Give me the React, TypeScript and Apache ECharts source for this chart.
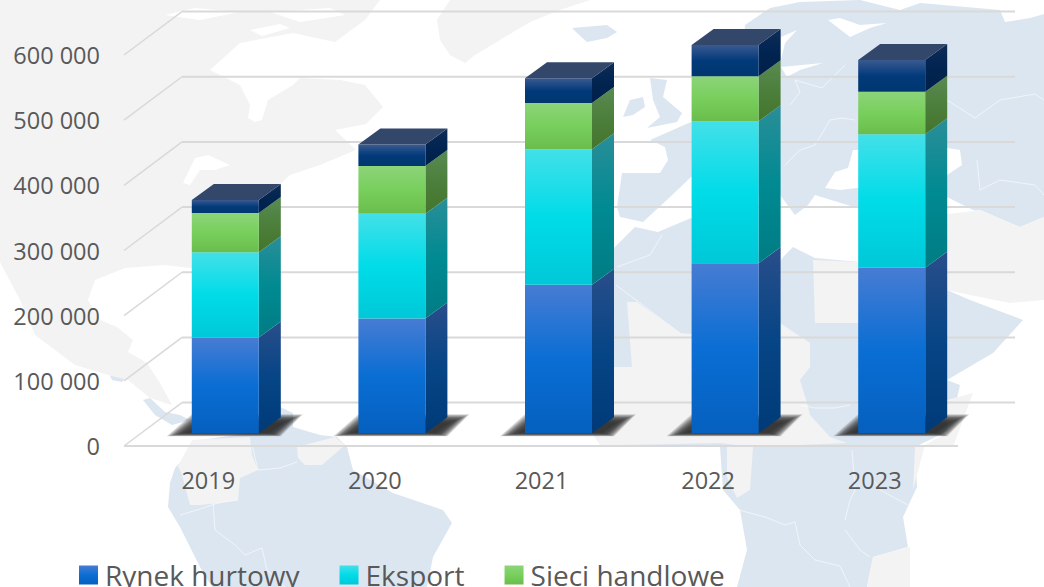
import React, { useEffect, useRef } from "react";
import * as echarts from "echarts";

const years = ["2019", "2020", "2021", "2022", "2023"];
const rynekHurtowy = [147000, 176000, 228000, 261000, 254000];
const eksport = [131000, 161000, 208000, 218000, 205000];
const sieciHandlowe = [60000, 73000, 71000, 69000, 65000];
const sprzedazDetaliczna = [20000, 33000, 38000, 48000, 49000];
const yTicks = [0, 100000, 200000, 300000, 400000, 500000, 600000];
const seriesNames = ["Rynek hurtowy", "Eksport", "Sieci handlowe", "Sprzedaż detaliczna"];

const LAND_BLUE = "#dce6f1";
const LAND_GREY = "#f3f3f3";

type P = number[][];
const greyLand: P[] = [
  // North and Central America
  [[0,0],[380,0],[365,20],[335,42],[293,33],[240,43],[210,70],[240,85],[250,105],[248,118],[255,122],[262,120],[268,100],[293,85],[300,78],[340,80],[365,85],[383,107],[366,124],[335,130],[356,150],[320,165],[290,175],[272,192],[262,215],[262,258],[190,268],[165,265],[125,268],[95,280],[88,300],[100,320],[117,327],[133,340],[128,352],[147,363],[160,383],[172,405],[150,398],[128,380],[108,375],[75,365],[35,335],[20,300],[0,262]],
  // Greenland
  [[437,20],[450,0],[590,0],[560,10],[530,22],[500,40],[475,55],[465,63],[450,55],[440,40]],
  // Colombia
  [[178,466],[192,440],[250,437],[252,455],[258,470],[240,478],[238,500],[218,503],[200,505],[190,505],[182,475]],
  // Guianas
  [[297,447],[335,437],[345,445],[322,465],[305,465],[298,458]],
];
const blueLand: P[] = [
  // South America
  [[175,468],[170,483],[168,507],[180,527],[200,567],[212,587],[427,587],[433,557],[452,523],[443,510],[393,493],[353,470],[347,447],[337,437],[320,435],[293,427],[293,413],[280,407],[250,433],[200,440]],
  // Central America
  [[107,370],[117,352],[128,352],[128,375],[122,382],[112,380]],
  [[143,400],[150,398],[165,412],[180,415],[190,420],[172,425],[155,415]],
  // Iceland
  [[572,28],[607,25],[617,32],[607,38],[587,42],[577,33]],
  // Great Britain
  [[650,78],[667,80],[663,97],[682,113],[677,122],[647,128],[660,117],[653,100]],
  // Ireland
  [[623,117],[630,100],[643,97],[645,107],[633,115]],
  // Iberia and France
  [[622,173],[660,173],[668,160],[665,147],[650,140],[691,122],[700,170],[691,177],[670,197],[643,222],[620,217],[617,207]],
  // Eurasia
  [[691,122],[740,90],[745,25],[770,8],[800,2],[860,0],[900,10],[920,3],[1000,10],[1005,22],[1030,18],[1044,14],[1044,217],[1020,227],[980,210],[947,213],[925,240],[880,215],[815,195],[808,205],[795,215],[780,195],[700,195]],
  // Africa
  [[612,250],[635,227],[658,232],[691,218],[780,262],[783,257],[793,247],[815,258],[860,262],[860,290],[947,290],[970,300],[1023,320],[993,353],[947,380],[960,385],[950,430],[915,447],[917,487],[903,517],[908,547],[873,557],[867,587],[737,587],[747,550],[740,510],[723,490],[720,447],[620,445],[614,440]],
];
const greyOverlays: P[] = [
  // Sahel
  [[613,367],[632,367],[627,302],[637,302],[680,333],[700,335],[780,323],[810,343],[810,367],[800,380],[807,403],[810,415],[830,437],[847,443],[753,447],[720,443],[620,445],[600,445],[590,430],[590,367]],
  // Libya
  [[813,260],[860,262],[860,323],[815,323]],
  // Middle East
  [[860,262],[925,240],[947,213],[980,210],[1020,227],[1044,217],[1044,300],[1010,303],[985,298],[970,295],[947,290],[860,290]],
  // East Africa
  [[915,447],[953,447],[973,393],[947,400],[947,433],[925,445],[913,490]],
  // South-east Africa
  [[873,557],[910,547],[910,587],[867,587]],
  // Gabon
  [[727,447],[753,447],[750,490],[737,498],[727,477]],
];
const whiteOverlays: P[] = [
  // Arctic channels
  [[165,15],[195,8],[240,12],[200,20]],
  [[270,12],[330,8],[345,15],[300,22]],
  [[250,30],[280,24],[290,28],[262,36]],
  // Great Lakes
  [[183,183],[195,158],[208,155],[230,165],[215,170],[200,170],[190,185]],
  // Black Sea
  [[825,188],[835,172],[848,168],[853,150],[865,150],[865,187],[840,190]],
  // Caspian
  [[947,148],[960,150],[962,165],[947,175]],
  [[947,197],[975,211],[947,214]],
  // Baltic
  [[781,67],[823,63],[800,70],[787,77]],
  [[781,37],[797,30],[785,43],[781,60]],
  // White Sea
  [[828,20],[850,37],[870,28],[887,23],[860,25],[840,18]],
];
const whiteBorders: P[] = [
  [[213,503],[215,530],[235,545],[245,555],[262,548],[267,570],[285,587]],
  [[238,500],[218,503],[197,510],[180,515]],
  [[252,445],[258,470],[280,468],[297,462]],
  [[739,510],[765,517],[785,525],[795,522],[800,545],[815,560],[840,566],[850,587]],
  [[845,520],[850,500],[855,490],[852,450]],
  [[845,530],[860,550],[870,557]],
  [[908,505],[880,490],[870,475]],
  [[800,405],[815,408],[835,408],[850,405]],
  [[790,105],[800,92],[795,80],[822,88],[845,65]],
  [[785,165],[800,150],[815,145],[830,120],[842,118],[855,120]],
  [[947,100],[975,118],[1000,100],[1035,94],[1044,100]],
  [[977,160],[980,190],[1000,180],[1035,185],[1044,195]],
  [[617,267],[650,255],[662,235]],
  [[616,285],[680,333]],
];

const lg = (stops: string[]) =>
  new echarts.graphic.LinearGradient(0, 0, 0, 1, [
    { offset: 0, color: stops[0] },
    { offset: 0.5, color: stops[1] },
    { offset: 1, color: stops[2] },
  ]);

const FRONT = [
  ["#477cd3", "#0a6ed4", "#0560bf"],
  ["#43e0e8", "#00dce8", "#00c8d8"],
  ["#8cd47a", "#78cf5c", "#6abd4c"],
  ["#3a5a90", "#023a7a", "#00376f"],
];
const SIDE = [
  ["#294e8a", "#064586", "#003a78"],
  ["#2a8e98", "#008a92", "#007c84"],
  ["#5a8a52", "#4c7f3c", "#44752c"],
  ["#0f2c58", "#012450", "#00204a"],
];
const TOP_FACE = "#33476a";

export default function App() {
  const ref = useRef<HTMLDivElement>(null);
  useEffect(() => {
    const chart = echarts.init(ref.current!, undefined, { renderer: "svg" });
    const stacks = [rynekHurtowy, eksport, sieciHandlowe, sprzedazDetaliczna];
    const BAR_W = 67, OFF_X = 17, OFF_Y = 12.7, DX = 22, DY = 16;
    const BACK_X = 58, BACK_Y = 43.4;

    const bars = stacks.map((vals, s) => ({
      type: "custom" as const,
      name: seriesNames[s],
      coordinateSystem: "cartesian2d",
      clip: false,
      z: 5 + s,
      silent: true,
      itemStyle: { color: FRONT[s][1] },
      data: vals.map((v, i) => {
        let base = 0;
        for (let k = 0; k < s; k++) base += stacks[k][i];
        return [i, base, base + v];
      }),
      encode: { x: 0, y: [1, 2] },
      renderItem: (_: any, api: any) => {
        const b = api.coord([api.value(0), api.value(1)]);
        const t = api.coord([api.value(0), api.value(2)]);
        const x0 = b[0] + OFF_X - BAR_W / 2;
        const x1 = x0 + BAR_W;
        const yb = b[1] - OFF_Y;
        const yt = t[1] - OFF_Y;
        const children: any[] = [
          { type: "polygon", shape: { points: [[x1, yt], [x1 + DX, yt - DY], [x1 + DX, yb - DY], [x1, yb]] }, style: { fill: lg(SIDE[s]) } },
          { type: "rect", shape: { x: x0, y: yt, width: BAR_W, height: yb - yt }, style: { fill: lg(FRONT[s]) } },
        ];
        if (s === stacks.length - 1) {
          children.push({ type: "polygon", shape: { points: [[x0, yt], [x0 + DX, yt - DY], [x1 + DX, yt - DY], [x1, yt]] }, style: { fill: TOP_FACE } });
        }
        return { type: "group", children };
      },
    }));

    const shadows = {
      type: "custom" as const,
      name: "shadow",
      coordinateSystem: "cartesian2d",
      clip: false,
      z: 4,
      silent: true,
      data: years.map((_, i) => [i, 0]),
      encode: { x: 0, y: 1 },
      renderItem: (_: any, api: any) => {
        const b = api.coord([api.value(0), 0]);
        const x0 = b[0] + OFF_X - BAR_W / 2;
        const x1 = x0 + BAR_W;
        const y = b[1] - OFF_Y;
        // nested faint parallelograms give the soft floor shadow
        const layers = [0, 1, 2, 3, 4, 5, 6, 7, 8, 10, 12];
        return {
          type: "group",
          children: layers.map((d) => ({
            type: "polygon",
            shape: {
              points: [
                [x0 - 25 + d * 1.6, y + 3 - d * 0.3],
                [x0 + d, y - 19 + d * 0.7],
                [x1 + 44 - d * 1.6, y - 19 + d * 0.7],
                [x1 + 22 - d, y + 3 - d * 0.3],
              ],
            },
            style: { fill: "rgba(30,30,30,0.17)" },
          })),
        };
      },
    };

    const gridLines = {
      type: "custom" as const,
      name: "grid",
      coordinateSystem: "cartesian2d",
      clip: false,
      z: 3,
      silent: true,
      data: yTicks.map((v) => [0, v]),
      encode: { x: 0, y: 1 },
      renderItem: (params: any, api: any) => {
        const y = api.coord([0, api.value(1)])[1];
        const left = params.coordSys.x - 1;
        const right = params.coordSys.x + params.coordSys.width;
        const line = (p: number[][], w: number) => ({
          type: "polyline",
          shape: { points: p },
          style: { stroke: "#d9d9d9", lineWidth: w, fill: "none" },
        });
        const children: any[] = [
          line([[left, y], [left + BACK_X, y - BACK_Y]], 1.5),
          line([[left + BACK_X, y - BACK_Y], [right + BACK_X - 1, y - BACK_Y]], 2),
        ];
        if (api.value(1) === 0) {
          children.push(line([[left, y], [right, y]], 2));
        }
        return { type: "group", children };
      },
    };

    const poly = (points: P, fill: string, z: number) => ({
      type: "polygon",
      z,
      silent: true,
      shape: { points },
      style: { fill },
    });

    chart.setOption({
      animation: false,
      backgroundColor: "#ffffff",
      graphic: {
        elements: [
          ...blueLand.map((p) => poly(p, LAND_BLUE, -5)),
          ...greyLand.map((p) => poly(p, LAND_GREY, -4)),
          ...greyOverlays.map((p) => poly(p, LAND_GREY, -4)),
          ...whiteOverlays.map((p) => poly(p, "#ffffff", -3)),
          ...whiteBorders.map((p) => ({
            type: "polyline",
            z: -2,
            silent: true,
            shape: { points: p },
            style: { stroke: "#ffffff", lineWidth: 0.8, fill: "none", opacity: 0.7 },
          })),
        ],
      },
      grid: { left: 125, top: 55, width: 833, height: 391 },
      xAxis: {
        type: "category",
        data: years,
        axisLine: { show: false },
        axisTick: { show: false },
        axisLabel: { color: "#595959", fontFamily: "Open Sans", fontSize: 23.5, margin: 22 },
      },
      yAxis: {
        type: "value",
        min: 0,
        max: 600000,
        interval: 100000,
        axisLine: { show: false },
        axisTick: { show: false },
        splitLine: { show: false },
        axisLabel: {
          color: "#595959",
          fontFamily: "Open Sans",
          fontSize: 23.5,
          margin: 25,
          padding: [2, 0, 0, 0],
          formatter: (v: number) => String(v).replace(/\B(?=(\d{3})+$)/g, " "),
        },
      },
      legend: {
        left: 79,
        top: 561,
        padding: 0,
        itemGap: 40,
        itemWidth: 19,
        itemHeight: 19,
        icon: "rect",
        selectedMode: false,
        textStyle: { color: "#595959", fontFamily: "Open Sans", fontSize: 28, padding: [0, 0, 2, 2] },
        data: seriesNames.map((name, s) => ({ name, itemStyle: { color: lg(FRONT[s]) } })),
      },
      series: [gridLines, shadows, ...bars],
    });
    return () => chart.dispose();
  }, []);
  return (
    <div
      ref={ref}
      style={{ position: "absolute", left: 0, top: 0, width: 1044, height: 587, overflow: "hidden" }}
    />
  );
}
